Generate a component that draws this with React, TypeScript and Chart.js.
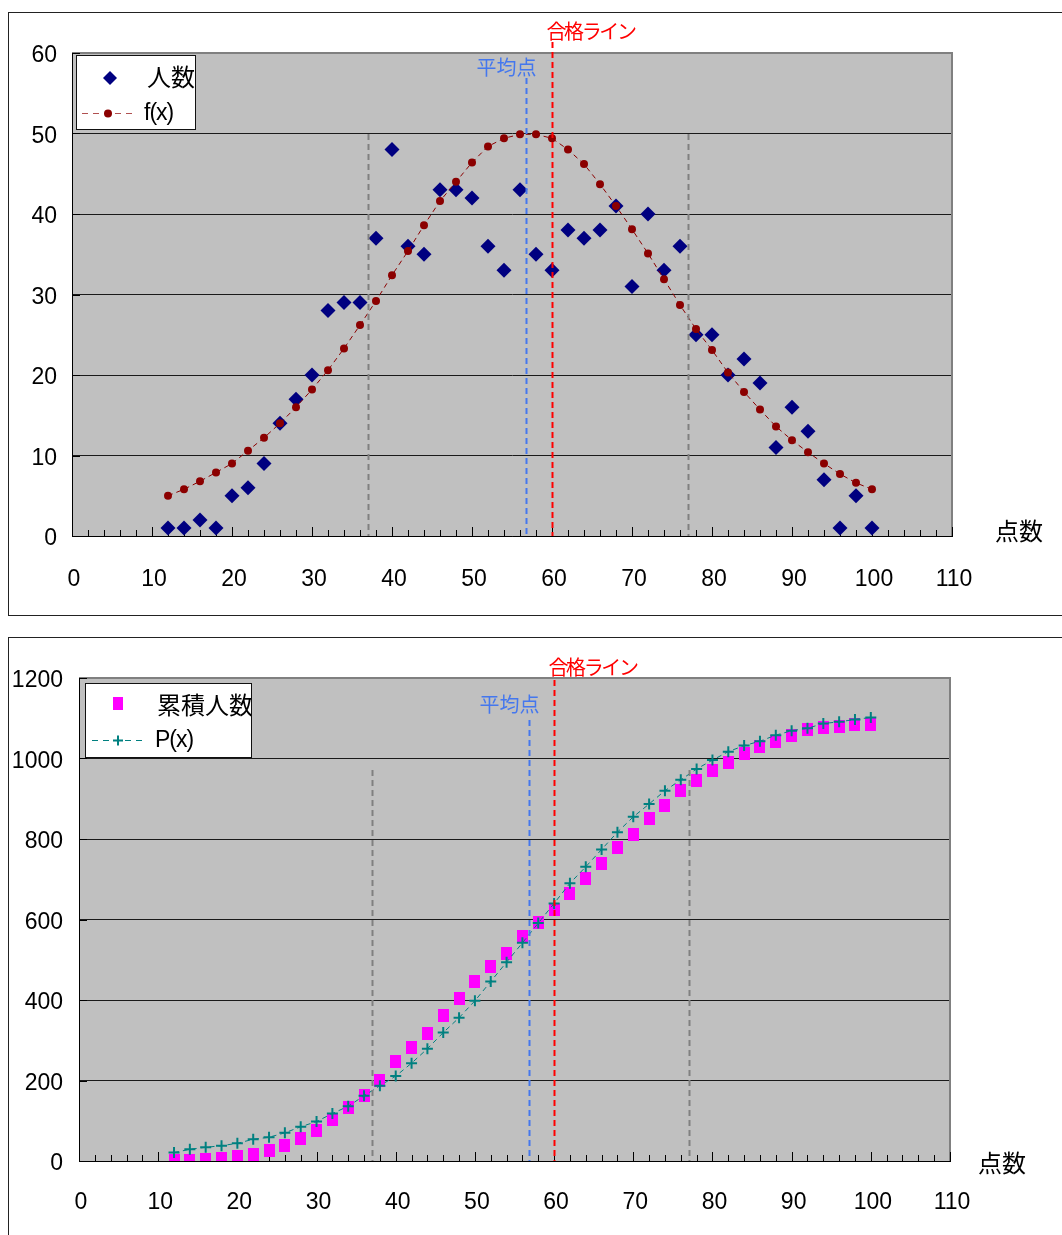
import React, { useEffect, useRef } from "react";
import { Chart, registerables } from "chart.js";

Chart.register(...registerables);

// ---------- data ----------
const scores = [12, 14, 16, 18, 20, 22, 24, 26, 28, 30, 32, 34, 36, 38, 40, 42, 44, 46, 48, 50, 52, 54, 56, 58, 60, 62, 64, 66, 68, 70, 72, 74, 76, 78, 80, 82, 84, 86, 88, 90, 92, 94, 96, 98, 100];
const counts = [1, 1, 2, 1, 5, 6, 9, 14, 17, 20, 28, 29, 29, 37, 48, 36, 35, 43, 43, 42, 36, 33, 43, 35, 33, 38, 37, 38, 41, 31, 40, 33, 36, 25, 25, 20, 22, 19, 11, 16, 13, 7, 1, 5, 1];
const fx = [5.0, 5.8, 6.8, 7.9, 9.0, 10.6, 12.2, 14.0, 16.0, 18.2, 20.6, 23.3, 26.2, 29.2, 32.4, 35.4, 38.6, 41.6, 44.0, 46.4, 48.4, 49.4, 49.9, 49.9, 49.4, 48.0, 46.2, 43.7, 41.0, 38.1, 35.1, 31.9, 28.7, 25.7, 23.1, 20.3, 17.9, 15.7, 13.6, 11.9, 10.4, 9.0, 7.7, 6.6, 5.8];
const cumulative = [1, 2, 4, 5, 10, 16, 25, 39, 56, 76, 104, 133, 162, 199, 247, 283, 318, 361, 404, 446, 482, 515, 558, 593, 626, 664, 701, 739, 780, 811, 851, 884, 920, 945, 970, 990, 1012, 1031, 1042, 1058, 1071, 1078, 1079, 1084, 1085];
const px = [21, 29, 34, 38, 44, 54, 59, 70, 85, 98, 118, 136, 162, 187, 211, 243, 279, 319, 356, 398, 446, 494, 542, 591, 640, 690, 731, 774, 817, 855, 887, 920, 947, 974, 996, 1017, 1032, 1043, 1058, 1069, 1075, 1087, 1091, 1097, 1102];

const X_MIN = 0;
const X_MAX = 110;
const X_STEP = 10;
const TOP_Y_MAX = 60;
const TOP_Y_STEP = 10;
const BOT_Y_MAX = 1200;
const BOT_Y_STEP = 200;

const MEAN = 56.8;
const PASS = 60;
const SIGMA_LOW = 37;
const SIGMA_HIGH = 77;

const LBL_PASS = "合格ライン";
const LBL_MEAN = "平均点";
const LBL_X = "点数";
const LBL_COUNT = "人数";
const LBL_FX = "f(x)";
const LBL_CUM = "累積人数";
const LBL_PX = "P(x)";

const NUM_FONT = "'Liberation Sans', Arial, sans-serif";
const JP_FONT = "'Noto Sans CJK JP', 'Noto Sans', sans-serif";

type LegendEntry = {
  text: string;
  font: string;
  textX: number;
  y: number;
  drawMarker: (ctx: CanvasRenderingContext2D, bx: number, by: number) => void;
};

type DecorOpts = {
  id: string;
  yMax: number;
  redTop: number;
  blueTop: number;
  grayTop: number;
  passLabelY: number;
  meanLabelY: number;
  titleDx: number;
  titleDy: number;
  legend: { dx: number; dy: number; w: number; h: number; entries: LegendEntry[] };
};

function makeDecor(o: DecorOpts) {
  return {
    id: o.id,
    beforeDraw(chart: any) {
      const { ctx, chartArea: a } = chart;
      ctx.save();
      ctx.fillStyle = "#c0c0c0";
      ctx.fillRect(a.left, a.top, a.right - a.left, a.bottom - a.top);
      ctx.restore();
    },
    beforeDatasetsDraw(chart: any) {
      const { ctx, chartArea: a, scales } = chart;
      const xs = scales.x;
      const ys = scales.y;
      ctx.save();
      ctx.strokeStyle = "#808080";
      ctx.lineWidth = 2;
      ctx.beginPath();
      ctx.moveTo(a.left, a.top);
      ctx.lineTo(a.right, a.top);
      ctx.lineTo(a.right, a.bottom);
      ctx.stroke();
      ctx.strokeStyle = "#000";
      ctx.lineWidth = 1;
      for (let v = X_MIN; v <= X_MAX; v += 2) {
        const x = Math.round(xs.getPixelForValue(v)) + 0.5;
        const len = v % 10 === 0 ? 9 : 6;
        ctx.beginPath();
        ctx.moveTo(x, a.bottom);
        ctx.lineTo(x, a.bottom - len);
        ctx.stroke();
      }
      ys.ticks.forEach((t: any) => {
        const y = Math.round(ys.getPixelForValue(t.value)) + 0.5;
        ctx.beginPath();
        ctx.moveTo(a.left, y);
        ctx.lineTo(a.left + 8, y);
        ctx.stroke();
      });
      ctx.restore();
    },
    afterDatasetsDraw(chart: any) {
      const { ctx, chartArea: a, scales } = chart;
      const xs = scales.x;
      const vline = (v: number, top: number, color: string, width: number) => {
        const x = Math.round(xs.getPixelForValue(v)) + 0.5;
        ctx.save();
        ctx.strokeStyle = color;
        ctx.lineWidth = width;
        ctx.setLineDash([6, 4]);
        ctx.beginPath();
        ctx.moveTo(x, top);
        ctx.lineTo(x, a.bottom);
        ctx.stroke();
        ctx.restore();
        return x;
      };
      vline(SIGMA_LOW, a.top + o.grayTop, "#808080", 2);
      vline(SIGMA_HIGH, a.top + o.grayTop, "#808080", 2);
      const bx = vline(MEAN, a.top + o.blueTop, "#4477ee", 2);
      const rx = vline(PASS, a.top + o.redTop, "#ff0000", 2);

      ctx.save();
      ctx.textBaseline = "middle";
      ctx.font = `20px ${JP_FONT}`;
      (ctx as any).letterSpacing = "-2.4px";
      ctx.fillStyle = "#ff0000";
      ctx.textAlign = "left";
      ctx.fillText(LBL_PASS, rx - 6, a.top + o.passLabelY);
      (ctx as any).letterSpacing = "0px";
      ctx.fillStyle = "#4477ee";
      ctx.textAlign = "center";
      ctx.fillText(LBL_MEAN, bx - 20, a.top + o.meanLabelY);

      ctx.fillStyle = "#000";
      ctx.textAlign = "left";
      ctx.font = `24px ${JP_FONT}`;
      ctx.fillText(LBL_X, a.right + o.titleDx, a.bottom + o.titleDy);
      ctx.restore();

      const L = o.legend;
      const lx = a.left + L.dx;
      const ly = a.top + L.dy;
      ctx.save();
      ctx.fillStyle = "#fff";
      ctx.fillRect(lx, ly, L.w, L.h);
      ctx.strokeStyle = "#111";
      ctx.lineWidth = 1;
      ctx.strokeRect(lx + 0.5, ly + 0.5, L.w, L.h);
      ctx.beginPath();
      ctx.rect(lx, ly, L.w, L.h);
      ctx.clip();
      L.entries.forEach((e) => {
        e.drawMarker(ctx, lx, ly);
        ctx.fillStyle = "#000";
        ctx.font = e.font;
        ctx.textBaseline = "middle";
        ctx.textAlign = "left";
        if (e.text === LBL_FX || e.text === LBL_PX) (ctx as any).letterSpacing = "-1px";
        else (ctx as any).letterSpacing = "0px";
        ctx.fillText(e.text, lx + e.textX, ly + e.y);
      });
      ctx.restore();
    },
  };
}

function gridColor(max: number) {
  return (c: any) => (c.tick && c.tick.value === max ? "#808080" : "#1a1a1a");
}

function baseScales(yMax: number, yStep: number, xHeight: number, yWidth: number, yPad: number, xPad: number, xOff: number) {
  const font = { family: NUM_FONT, size: 23 };
  return {
    x: {
      type: "linear",
      min: X_MIN,
      max: X_MAX,
      ticks: { stepSize: X_STEP, padding: xPad, labelOffset: xOff, font, color: "#000", maxRotation: 0, autoSkip: false },
      grid: { display: false, drawTicks: false },
      border: { display: true, color: "#000", width: 1 },
      afterFit: (s: any) => {
        s.height = xHeight;
      },
    },
    y: {
      type: "linear",
      min: 0,
      max: yMax,
      ticks: {
        stepSize: yStep,
        padding: yPad,
        labelOffset: 3,
        font,
        color: "#000",
        callback: (v: any) => String(v),
      },
      grid: { color: gridColor(yMax), lineWidth: 1, drawTicks: false },
      border: { display: true, color: "#000", width: 1 },
      afterFit: (s: any) => {
        s.width = yWidth;
      },
    },
  };
}

function TopChart() {
  const ref = useRef<HTMLCanvasElement | null>(null);
  useEffect(() => {
    if (!ref.current) return;
    const legendEntries: LegendEntry[] = [
      {
        text: LBL_COUNT,
        font: `24px ${JP_FONT}`,
        textX: 71,
        y: 22,
        drawMarker: (ctx, bx, by) => {
          const cx = bx + 34, cy = by + 23, r = 7;
          ctx.fillStyle = "#000080";
          ctx.beginPath();
          ctx.moveTo(cx, cy - r);
          ctx.lineTo(cx + r, cy);
          ctx.lineTo(cx, cy + r);
          ctx.lineTo(cx - r, cy);
          ctx.closePath();
          ctx.fill();
        },
      },
      {
        text: LBL_FX,
        font: `23px ${NUM_FONT}`,
        textX: 68,
        y: 59,
        drawMarker: (ctx, bx, by) => {
          const y = by + 58.5;
          ctx.strokeStyle = "#b05050";
          ctx.lineWidth = 1;
          ctx.setLineDash([6, 5]);
          ctx.beginPath();
          ctx.moveTo(bx + 6, y);
          ctx.lineTo(bx + 61, y);
          ctx.stroke();
          ctx.setLineDash([]);
          ctx.fillStyle = "#8b0000";
          ctx.beginPath();
          ctx.arc(bx + 32, y, 4, 0, Math.PI * 2);
          ctx.fill();
        },
      },
    ];
    const chart = new Chart(ref.current, {
      type: "scatter",
      data: {
        datasets: [
          {
            label: LBL_FX,
            data: scores.map((x, i) => ({ x, y: fx[i] })),
            showLine: true,
            borderColor: "#8b0000",
            borderWidth: 1,
            borderDash: [5, 4],
            pointStyle: "circle",
            pointRadius: 4,
            pointBackgroundColor: "#8b0000",
            pointBorderColor: "#8b0000",
            pointBorderWidth: 0,
            tension: 0,
          },
          {
            label: LBL_COUNT,
            data: scores.map((x, i) => ({ x, y: counts[i] })),
            showLine: false,
            pointStyle: "rectRot",
            pointRadius: 7.5,
            pointBackgroundColor: "#000080",
            pointBorderColor: "#000080",
            pointBorderWidth: 0,
          },
        ],
      },
      options: {
        responsive: false,
        animation: false,
        devicePixelRatio: 1,
        layout: { padding: { top: 41, right: 110, left: 0, bottom: 0 } },
        plugins: { legend: { display: false }, tooltip: { enabled: false } },
        scales: baseScales(TOP_Y_MAX, TOP_Y_STEP, 79, 64, 15, 30, 2) as any,
      },
      plugins: [
        makeDecor({
          id: "decorTop",
          yMax: TOP_Y_MAX,
          redTop: -11,
          blueTop: 25,
          grayTop: 81,
          passLabelY: -22,
          meanLabelY: 14,
          titleDx: 43,
          titleDy: -5,
          legend: { dx: 4, dy: 2, w: 119, h: 74, entries: legendEntries },
        }) as any,
      ],
    } as any);
    return () => chart.destroy();
  }, []);
  return <canvas ref={ref} width={1054} height={603} style={{ width: 1054, height: 603, display: "block" }} />;
}

function BottomChart() {
  const ref = useRef<HTMLCanvasElement | null>(null);
  useEffect(() => {
    if (!ref.current) return;
    const sq = document.createElement("canvas");
    sq.width = 11;
    sq.height = 13;
    const sctx = sq.getContext("2d")!;
    sctx.fillStyle = "#ff00ff";
    sctx.fillRect(0, 0, 11, 13);

    const legendEntries: LegendEntry[] = [
      {
        text: LBL_CUM,
        font: `24px ${JP_FONT}`,
        textX: 72,
        y: 22,
        drawMarker: (ctx, bx, by) => {
          ctx.fillStyle = "#ff00ff";
          ctx.fillRect(bx + 28, by + 14, 10, 13);
        },
      },
      {
        text: LBL_PX,
        font: `23px ${NUM_FONT}`,
        textX: 70,
        y: 58,
        drawMarker: (ctx, bx, by) => {
          const y = by + 57.5;
          ctx.strokeStyle = "#008080";
          ctx.lineWidth = 1;
          ctx.setLineDash([6, 5]);
          ctx.beginPath();
          ctx.moveTo(bx + 7, y);
          ctx.lineTo(bx + 61, y);
          ctx.stroke();
          ctx.setLineDash([]);
          ctx.lineWidth = 2;
          ctx.beginPath();
          ctx.moveTo(bx + 33 - 5, y);
          ctx.lineTo(bx + 33 + 5, y);
          ctx.moveTo(bx + 33, y - 5);
          ctx.lineTo(bx + 33, y + 5);
          ctx.stroke();
        },
      },
    ];

    const chart = new Chart(ref.current, {
      type: "scatter",
      data: {
        datasets: [
          {
            label: LBL_PX,
            data: scores.map((x, i) => ({ x, y: px[i] })),
            showLine: true,
            borderColor: "#008080",
            borderWidth: 1,
            borderDash: [5, 4],
            pointStyle: "cross",
            pointRadius: 5.5,
            pointBorderColor: "#008080",
            pointBorderWidth: 2,
            tension: 0,
          },
          {
            label: LBL_CUM,
            data: scores.map((x, i) => ({ x, y: cumulative[i] })),
            showLine: false,
            pointStyle: sq,
            pointRadius: 6,
          },
        ],
      },
      options: {
        responsive: false,
        animation: false,
        devicePixelRatio: 1,
        layout: { padding: { top: 41, right: 112, left: 0, bottom: 0 } },
        plugins: { legend: { display: false }, tooltip: { enabled: false } },
        scales: baseScales(BOT_Y_MAX, BOT_Y_STEP, 74, 71, 16, 28, 2) as any,
      },
      plugins: [
        makeDecor({
          id: "decorBottom",
          yMax: BOT_Y_MAX,
          redTop: 2,
          blueTop: 42,
          grayTop: 92,
          passLabelY: -11,
          meanLabelY: 26,
          titleDx: 28,
          titleDy: 2,
          legend: { dx: 6, dy: 5, w: 166, h: 74, entries: legendEntries },
        }) as any,
      ],
    } as any);
    return () => chart.destroy();
  }, []);
  return <canvas ref={ref} width={1054} height={598} style={{ width: 1054, height: 598, display: "block" }} />;
}

export default function App() {
  return (
    <div style={{ position: "fixed", left: 0, top: 0, width: 1062, height: 1235, overflow: "hidden", background: "#fff" }}>
      <div style={{ position: "absolute", left: 8, top: 12 }}>
        <TopChart />
      </div>
      <div style={{ position: "absolute", left: 8, top: 637 }}>
        <BottomChart />
      </div>
      <div
        style={{
          position: "absolute",
          left: 8,
          top: 12,
          width: 1070,
          height: 602,
          border: "1px solid #222",
          pointerEvents: "none",
        }}
      />
      <div
        style={{
          position: "absolute",
          left: 8,
          top: 637,
          width: 1070,
          height: 620,
          border: "1px solid #222",
          pointerEvents: "none",
        }}
      />
    </div>
  );
}
